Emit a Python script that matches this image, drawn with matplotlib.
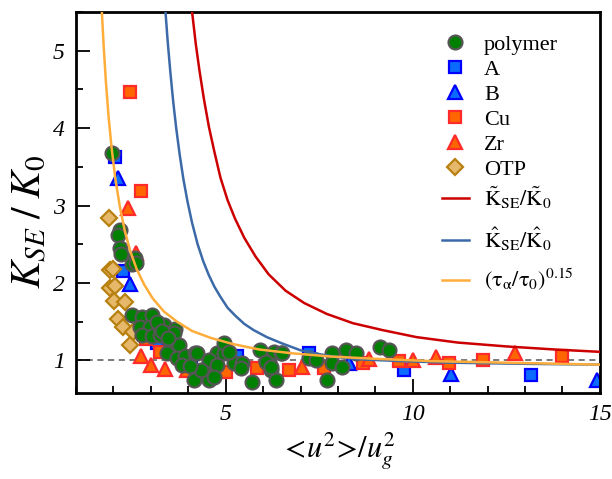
import numpy as np
import matplotlib.pyplot as plt
from matplotlib.ticker import MultipleLocator

plt.rcParams['font.family'] = ['Liberation Serif', 'DejaVu Serif']
plt.rcParams['mathtext.fontset'] = 'stix'

# polymer data
poly_x = [1.96, 2.18, 2.12, 2.18, 2.21, 2.58, 2.49, 2.61, 2.49, 2.76, 3.03, 2.72, 2.98, 3.34,
          3.65, 2.76, 3.03, 3.25, 3.61, 3.52, 3.74, 3.43, 3.70, 3.92, 4.19, 3.83, 4.14, 4.55,
          4.77, 4.95, 4.95, 4.55, 5.22, 5.44, 5.71, 5.93, 6.16, 6.20, 6.34, 4.24, 4.55, 4.77,
          4.68, 5.08, 5.40, 6.29, 6.47, 6.07, 6.20, 6.51, 7.23, 7.41, 7.72, 7.85, 7.85, 8.12,
          8.21, 8.48, 9.13, 9.37, 3.16, 3.30, 3.45, 4.35, 4.05]
poly_y = [3.68, 2.69, 2.62, 2.45, 2.38, 2.32, 2.25, 2.26, 1.59, 1.56, 1.59, 1.43, 1.43, 1.46,
          1.41, 1.33, 1.31, 1.33, 1.35, 1.24, 1.20, 1.09, 1.03, 1.05, 1.09, 0.94, 0.75, 0.96,
          1.09, 1.09, 1.23, 0.75, 0.96, 0.97, 0.72, 1.13, 0.98, 0.87, 0.75, 1.09, 1.00, 0.94,
          0.79, 1.11, 0.90, 1.11, 1.09, 0.98, 0.92, 1.09, 1.03, 1.01, 0.75, 1.09, 0.97, 0.92,
          1.14, 1.09, 1.17, 1.13, 1.50, 1.38, 1.29, 0.88, 0.93]

a_x = [2.05, 2.25, 3.16, 4.06, 5.31, 6.10, 7.23, 9.77, 13.17]
a_y = [3.63, 2.15, 1.23, 1.00, 1.05, 0.96, 1.09, 0.87, 0.81]

b_x = [2.13, 2.43, 8.30, 11.03, 14.91]
b_y = [3.35, 1.98, 0.96, 0.82, 0.75]

cu_x = [2.45, 2.74, 2.88, 3.25, 4.64, 5.00, 5.84, 6.69, 7.63, 8.66, 9.64, 10.98, 11.88, 13.98]
cu_y = [4.47, 3.19, 1.27, 1.11, 0.82, 0.85, 0.90, 0.87, 0.90, 0.96, 0.99, 0.97, 1.00, 1.06]

zr_x = [2.40, 2.61, 2.74, 3.00, 3.39, 3.97, 7.05, 8.84, 10.00, 10.62, 12.72]
zr_y = [2.97, 2.39, 1.05, 0.94, 0.89, 0.87, 0.92, 1.02, 1.00, 1.04, 1.10]

otp_x = [1.87, 1.91, 1.98, 1.91, 2.05, 2.02, 2.31, 2.13, 2.25, 2.52, 2.45]
otp_y = [2.84, 2.17, 2.18, 1.93, 1.96, 1.77, 1.75, 1.53, 1.43, 1.36, 1.20]

# curves
red_x = [4.10, 4.20, 4.30, 4.42, 4.55, 4.70, 4.86, 5.05, 5.25, 5.50, 5.80, 6.15, 6.60,
         7.10, 7.70, 8.40, 9.20, 10.1, 11.2, 12.5, 13.8, 15.0]
red_y = [5.51, 5.09, 4.74, 4.37, 4.02, 3.69, 3.36, 3.07, 2.83, 2.58, 2.34, 2.11, 1.90,
         1.74, 1.60, 1.48, 1.39, 1.30, 1.23, 1.18, 1.14, 1.11]

blue_x = [3.39, 3.45, 3.52, 3.60, 3.68, 3.77, 3.87, 3.98, 4.10, 4.25, 4.40, 4.55, 4.70,
          4.86, 5.05, 5.25, 5.50, 5.75, 6.10, 6.50, 7.00, 7.50, 8.00, 8.70, 9.70, 11.0,
          13.0, 15.0]
blue_y = [5.51, 5.12, 4.73, 4.33, 3.99, 3.66, 3.34, 3.05, 2.78, 2.50, 2.28, 2.10, 1.95,
          1.82, 1.68, 1.58, 1.47, 1.39, 1.30, 1.22, 1.13, 1.08, 1.04, 1.01, 0.99, 0.97,
          0.955, 0.945]

orange_x = [1.69, 1.74, 1.80, 1.87, 1.95, 2.05, 2.17, 2.30, 2.45, 2.62, 2.82, 3.05, 3.35,
            3.70, 4.10, 4.60, 5.20, 5.90, 6.80, 7.80, 9.00, 10.5, 12.5, 15.0]
orange_y = [5.51, 5.05, 4.59, 4.15, 3.75, 3.35, 2.99, 2.68, 2.41, 2.18, 1.98, 1.80, 1.63,
            1.50, 1.38, 1.29, 1.21, 1.14, 1.09, 1.05, 1.02, 0.99, 0.97, 0.945]

fig = plt.figure(figsize=(6.12, 4.79), dpi=100)
ax = fig.add_axes([0.1242, 0.179, 0.856, 0.796])

ax.axhline(1, color='#555555', ls=(0, (4, 3)), lw=1.1, zorder=1)

ms = 10
h_poly, = ax.plot(poly_x, poly_y, 'o', ms=ms, mfc='#008000', mec='#555555', mew=1.6, zorder=3, label='polymer')
h_a, = ax.plot(a_x, a_y, 's', ms=9, mfc='#0a6cff', mec='#0000ff', mew=1.6, zorder=2, label='A')
h_b, = ax.plot(b_x, b_y, '^', ms=10.5, mfc='#0a6cff', mec='#0000ff', mew=1.6, zorder=2, label='B')
h_cu, = ax.plot(cu_x, cu_y, 's', ms=9, mfc='#ff6600', mec='#ff2a2a', mew=1.6, zorder=2, label='Cu')
h_zr, = ax.plot(zr_x, zr_y, '^', ms=10.5, mfc='#ff6600', mec='#ff2a2a', mew=1.6, zorder=2.5, label='Zr')
h_otp, = ax.plot(otp_x, otp_y, 'D', ms=8.5, mfc='#e6b86a', mec='#b8800f', mew=1.6, zorder=2.5, label='OTP')

h_red, = ax.plot(red_x, red_y, color='#cc0000', lw=1.8, zorder=4,
                 label=r'$\mathrm{\tilde{K}_{SE}/\tilde{K}_0}$')
h_blue, = ax.plot(blue_x, blue_y, color='#3c6aa8', lw=1.8, zorder=4,
                  label=r'$\mathrm{\hat{K}_{SE}/\hat{K}_0}$')
h_or, = ax.plot(orange_x, orange_y, color='#ffad3a', lw=1.8, zorder=4.5,
                label=r'$\mathrm{(\tau_\alpha/\tau_0)^{0.15}}$')

ax.set_xlim(1, 15)
ax.set_ylim(0.575, 5.5)
ax.xaxis.set_major_locator(MultipleLocator(5))
ax.xaxis.set_minor_locator(MultipleLocator(1))
ax.yaxis.set_major_locator(MultipleLocator(1))
ax.yaxis.set_minor_locator(MultipleLocator(0.5))
ax.tick_params(which='both', direction='in', top=False, right=False, width=1.3)
ax.tick_params(which='major', length=10, labelsize=17, pad=8)
ax.tick_params(which='minor', length=5)
for lab in ax.get_xticklabels() + ax.get_yticklabels():
    lab.set_fontstyle('italic')
for s in ax.spines.values():
    s.set_linewidth(2)

ax.set_xlabel(r'$<\!u^2\!>\!/u_g^2$', fontsize=22, labelpad=4)
ax.set_ylabel(r'$K_{SE}\;/\;K_0$', fontsize=30, labelpad=2, y=0.45)

leg1 = ax.legend(handles=[h_poly, h_a, h_b, h_cu, h_zr, h_otp],
                 loc='upper left', frameon=False, fontsize=16, handlelength=1.2,
                 handletextpad=0.7, labelspacing=0.2, borderpad=0, borderaxespad=0,
                 bbox_to_anchor=((442 - 76) / 524, 0.942))
ax.add_artist(leg1)
ax.legend(handles=[h_red, h_blue, h_or],
          loc='upper left', frameon=False, fontsize=16, handlelength=1.2,
          handletextpad=0.7, labelspacing=0.65, borderpad=0, borderaxespad=0,
          bbox_to_anchor=((442 - 76) / 524, 0.547))

plt.savefig('out.png')
